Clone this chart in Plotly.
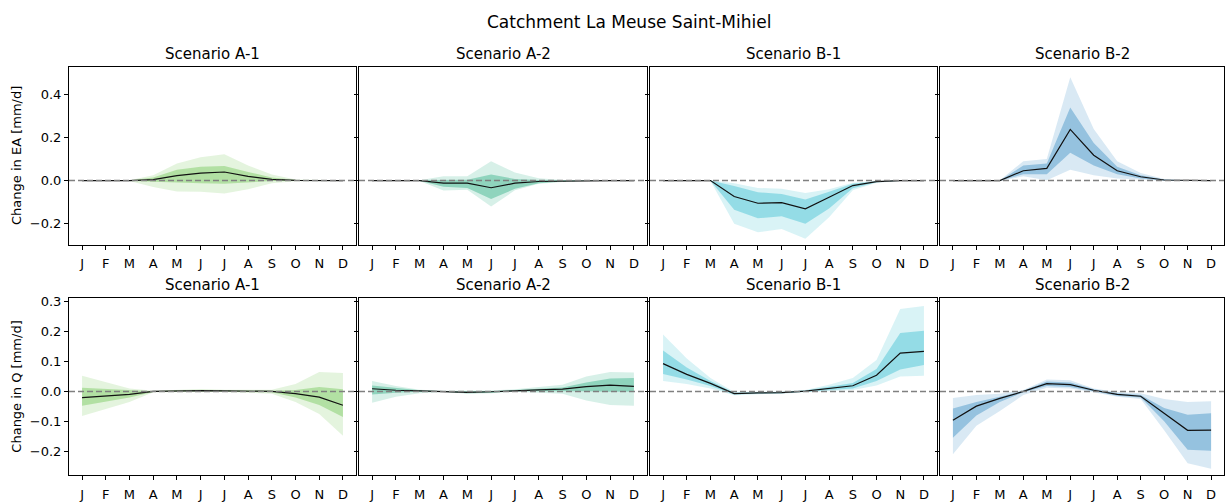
import plotly.graph_objects as go

W, H = 1225, 502

months = ["J", "F", "M", "A", "M", "J", "J", "A", "S", "O", "N", "D"]
month_idx = list(range(12))
scenarios = ["Scenario A-1", "Scenario A-2", "Scenario B-1", "Scenario B-2"]
suptitle = "Catchment La Meuse Saint-Mihiel"
ylabels = ["Change in EA [mm/d]", "Change in Q [mm/d]"]

ea_ticks = [-0.2, 0.0, 0.2, 0.4]
ea_ticktext = ["\u22120.2", "0.0", "0.2", "0.4"]
q_ticks = [-0.2, -0.1, 0.0, 0.1, 0.2, 0.3]
q_ticktext = ["\u22120.2", "\u22120.1", "0.0", "0.1", "0.2", "0.3"]

# ---- EA (evaporation) ----
ea_a1_med = [0, 0, 0, 0.005, 0.023, 0.035, 0.040, 0.020, 0.006, 0.001, 0, 0]
ea_a1_in_hi = [0.001, 0.001, 0.001, 0.015, 0.050, 0.065, 0.068, 0.040, 0.015, 0.003, 0.001, 0.001]
ea_a1_in_lo = [-0.001, -0.001, -0.001, -0.005, -0.010, -0.012, -0.015, -0.008, -0.002, -0.001, -0.001, -0.001]
ea_a1_out_hi = [0.002, 0.002, 0.002, 0.025, 0.080, 0.108, 0.122, 0.070, 0.028, 0.005, 0.002, 0.002]
ea_a1_out_lo = [-0.002, -0.002, -0.002, -0.030, -0.050, -0.052, -0.060, -0.040, -0.012, -0.003, -0.002, -0.002]

ea_a2_med = [0, 0, 0, -0.012, -0.012, -0.033, -0.012, -0.004, -0.002, 0, 0, 0]
ea_a2_in_hi = [0.001, 0.001, 0.001, 0.004, 0.004, 0.028, 0.008, 0.003, 0.001, 0.001, 0.001, 0.001]
ea_a2_in_lo = [-0.001, -0.001, -0.001, -0.028, -0.034, -0.085, -0.038, -0.012, -0.004, -0.001, -0.001, -0.001]
ea_a2_out_hi = [0.002, 0.002, 0.002, 0.020, 0.020, 0.090, 0.038, 0.011, 0.003, 0.002, 0.002, 0.002]
ea_a2_out_lo = [-0.002, -0.002, -0.002, -0.046, -0.042, -0.120, -0.045, -0.015, -0.006, -0.002, -0.002, -0.002]

ea_b1_med = [0, 0, 0, -0.074, -0.105, -0.102, -0.131, -0.077, -0.023, -0.005, 0, 0]
ea_b1_in_hi = [0.001, 0.001, 0.001, -0.025, -0.054, -0.062, -0.088, -0.052, -0.015, -0.003, 0.001, 0.001]
ea_b1_in_lo = [-0.001, -0.001, -0.001, -0.135, -0.175, -0.165, -0.200, -0.130, -0.035, -0.008, -0.001, -0.001]
ea_b1_out_hi = [0.002, 0.002, 0.002, -0.012, -0.034, -0.038, -0.057, -0.040, -0.010, -0.002, 0.002, 0.002]
ea_b1_out_lo = [-0.002, -0.002, -0.002, -0.200, -0.240, -0.225, -0.270, -0.170, -0.045, -0.010, -0.002, -0.002]

ea_b2_med = [0, 0, 0, 0.046, 0.057, 0.238, 0.118, 0.046, 0.018, 0.003, 0, 0]
ea_b2_in_hi = [0.001, 0.001, 0.001, 0.070, 0.080, 0.340, 0.175, 0.065, 0.025, 0.005, 0.001, 0.001]
ea_b2_in_lo = [-0.001, -0.001, -0.001, 0.030, 0.030, 0.130, 0.070, 0.030, 0.010, 0.001, -0.001, -0.001]
ea_b2_out_hi = [0.002, 0.002, 0.002, 0.090, 0.100, 0.480, 0.240, 0.090, 0.035, 0.008, 0.002, 0.002]
ea_b2_out_lo = [-0.002, -0.002, -0.002, 0.020, 0.002, 0.050, 0.025, 0.010, 0.004, -0.001, -0.002, -0.002]

# ---- Q (discharge) ----
q_a1_med = [-0.021, -0.016, -0.010, 0.000, 0.002, 0.003, 0.002, 0.001, 0.000, -0.007, -0.019, -0.046]
q_a1_in_hi = [0.012, 0.008, 0.003, 0.001, 0.004, 0.005, 0.004, 0.003, 0.002, 0.005, 0.015, 0.007]
q_a1_in_lo = [-0.048, -0.035, -0.020, -0.002, 0.000, 0.001, 0.000, -0.001, -0.003, -0.020, -0.045, -0.085]
q_a1_out_hi = [0.052, 0.030, 0.010, 0.002, 0.006, 0.008, 0.006, 0.005, 0.006, 0.025, 0.065, 0.062]
q_a1_out_lo = [-0.082, -0.058, -0.035, -0.003, -0.002, -0.001, -0.002, -0.004, -0.008, -0.035, -0.075, -0.148]

q_a2_med = [0.009, 0.004, 0.002, 0.000, -0.003, -0.001, 0.003, 0.005, 0.008, 0.016, 0.021, 0.017]
q_a2_in_hi = [0.020, 0.012, 0.004, 0.001, 0.000, 0.001, 0.005, 0.010, 0.013, 0.030, 0.043, 0.045]
q_a2_in_lo = [-0.010, -0.004, -0.001, -0.001, -0.006, -0.004, 0.001, 0.002, 0.001, 0.001, -0.001, 0.000]
q_a2_out_hi = [0.035, 0.018, 0.006, 0.002, 0.002, 0.003, 0.007, 0.014, 0.022, 0.050, 0.065, 0.063]
q_a2_out_lo = [-0.038, -0.018, -0.006, -0.002, -0.008, -0.006, -0.001, -0.004, -0.008, -0.030, -0.045, -0.048]

q_b1_med = [0.093, 0.057, 0.027, -0.007, -0.005, -0.004, 0.001, 0.010, 0.019, 0.054, 0.128, 0.134]
q_b1_in_hi = [0.137, 0.080, 0.035, -0.004, -0.003, -0.002, 0.003, 0.015, 0.028, 0.075, 0.195, 0.203]
q_b1_in_lo = [0.058, 0.040, 0.018, -0.010, -0.007, -0.006, -0.001, 0.005, 0.010, 0.035, 0.073, 0.088]
q_b1_out_hi = [0.190, 0.110, 0.045, -0.002, -0.001, 0.000, 0.005, 0.022, 0.045, 0.105, 0.275, 0.285]
q_b1_out_lo = [0.035, 0.025, 0.010, -0.013, -0.009, -0.008, -0.003, 0.002, 0.005, 0.020, 0.050, 0.052]

q_b2_med = [-0.096, -0.049, -0.023, 0.000, 0.026, 0.023, 0.004, -0.010, -0.016, -0.073, -0.130, -0.129]
q_b2_in_hi = [-0.057, -0.035, -0.018, 0.002, 0.033, 0.030, 0.007, -0.006, -0.012, -0.055, -0.078, -0.073]
q_b2_in_lo = [-0.155, -0.080, -0.035, -0.003, 0.018, 0.015, 0.001, -0.014, -0.020, -0.100, -0.195, -0.198]
q_b2_out_hi = [-0.022, -0.012, -0.008, 0.005, 0.040, 0.037, 0.010, -0.002, -0.006, -0.025, -0.035, -0.033]
q_b2_out_lo = [-0.210, -0.115, -0.065, -0.012, 0.012, 0.010, -0.003, -0.018, -0.025, -0.130, -0.240, -0.258]

base_colors = [(118, 200, 92), (55, 178, 138), (64, 194, 210), (66, 146, 198)]

panels = [
    [
        (ea_a1_med, ea_a1_in_lo, ea_a1_in_hi, ea_a1_out_lo, ea_a1_out_hi),
        (ea_a2_med, ea_a2_in_lo, ea_a2_in_hi, ea_a2_out_lo, ea_a2_out_hi),
        (ea_b1_med, ea_b1_in_lo, ea_b1_in_hi, ea_b1_out_lo, ea_b1_out_hi),
        (ea_b2_med, ea_b2_in_lo, ea_b2_in_hi, ea_b2_out_lo, ea_b2_out_hi),
    ],
    [
        (q_a1_med, q_a1_in_lo, q_a1_in_hi, q_a1_out_lo, q_a1_out_hi),
        (q_a2_med, q_a2_in_lo, q_a2_in_hi, q_a2_out_lo, q_a2_out_hi),
        (q_b1_med, q_b1_in_lo, q_b1_in_hi, q_b1_out_lo, q_b1_out_hi),
        (q_b2_med, q_b2_in_lo, q_b2_in_hi, q_b2_out_lo, q_b2_out_hi),
    ],
]

# layout in pixels
col_px = [(69, 356), (359, 647), (650, 937), (940, 1224)]
row_px = [(64, 243), (297, 476)]
yranges = [(-0.297, 0.526), (-0.28, 0.312)]
yticks = [(ea_ticks, ea_ticktext), (q_ticks, q_ticktext)]

FONT = "DejaVu Sans"
fig = go.Figure()
layout = dict(
    width=W, height=H,
    margin=dict(l=0, r=0, t=0, b=0),
    paper_bgcolor="white", plot_bgcolor="white",
    showlegend=False,
    font=dict(family=FONT, size=13, color="black"),
)
annotations = []
shapes = []

for r in range(2):
    for c in range(4):
        k = r * 4 + c + 1
        xa = "x" if k == 1 else f"x{k}"
        ya = "y" if k == 1 else f"y{k}"
        med, in_lo, in_hi, out_lo, out_hi = panels[r][c]
        rgb = base_colors[c]
        col_out = f"rgba({rgb[0]},{rgb[1]},{rgb[2]},0.2)"
        col_in = f"rgba({rgb[0]},{rgb[1]},{rgb[2]},0.45)"
        fig.add_trace(go.Scatter(x=month_idx, y=out_lo, mode="lines", line=dict(width=0),
                                 xaxis=xa, yaxis=ya, hoverinfo="skip"))
        fig.add_trace(go.Scatter(x=month_idx, y=out_hi, mode="lines", line=dict(width=0),
                                 fill="tonexty", fillcolor=col_out, xaxis=xa, yaxis=ya, hoverinfo="skip"))
        fig.add_trace(go.Scatter(x=month_idx, y=in_lo, mode="lines", line=dict(width=0),
                                 xaxis=xa, yaxis=ya, hoverinfo="skip"))
        fig.add_trace(go.Scatter(x=month_idx, y=in_hi, mode="lines", line=dict(width=0),
                                 fill="tonexty", fillcolor=col_in, xaxis=xa, yaxis=ya, hoverinfo="skip"))
        fig.add_trace(go.Scatter(x=month_idx, y=med, mode="lines", line=dict(width=1.2, color="#111111"),
                                 xaxis=xa, yaxis=ya))

        x0, x1 = col_px[c]
        y0, y1 = row_px[r]
        xdom = [x0 / W, x1 / W]
        ydom = [(H - y1) / H, (H - y0) / H]
        tv, tt = yticks[r]
        layout["xaxis" if k == 1 else f"xaxis{k}"] = dict(
            domain=xdom, anchor=ya, range=[-0.55, 11.55],
            tickmode="array", tickvals=month_idx, ticktext=months,
            ticks="outside", ticklen=4, tickwidth=1, tickcolor="black",
            ticklabelstandoff=3,
            showline=True, linecolor="black", linewidth=1, mirror=True,
            showgrid=False, zeroline=False, tickfont=dict(size=13, family=FONT),
        )
        layout["yaxis" if k == 1 else f"yaxis{k}"] = dict(
            domain=ydom, anchor=xa, range=list(yranges[r]),
            tickmode="array", tickvals=tv, ticktext=tt,
            showticklabels=(c == 0),
            ticks="outside", ticklen=4, tickwidth=1, tickcolor="black",
            showline=True, linecolor="black", linewidth=1, mirror=True,
            showgrid=False, zeroline=False, tickfont=dict(size=13, family=FONT),
        )
        # dashed zero reference line
        shapes.append(dict(type="line", xref=f"{xa} domain", yref=ya, x0=0, x1=1, y0=0, y1=0,
                           line=dict(color="#808080", width=1.5, dash="6px,3px")))
        # subplot title
        annotations.append(dict(text=scenarios[c], x=(x0 + x1) / 2 / W, y=(H - y0) / H,
                                xref="paper", yref="paper", xanchor="center", yanchor="bottom",
                                yshift=2, showarrow=False, font=dict(size=15, family=FONT)))

# y-axis labels
for r in range(2):
    y0, y1 = row_px[r]
    annotations.append(dict(text=ylabels[r], x=17 / W, y=(H - (y0 + y1) / 2) / H,
                            xref="paper", yref="paper", xanchor="center", yanchor="middle",
                            textangle=-90, showarrow=False, font=dict(size=13, family=FONT)))

annotations.append(dict(text=suptitle, x=629 / W, y=(H - 18) / H, xref="paper", yref="paper",
                        xanchor="center", yanchor="middle", showarrow=False,
                        font=dict(size=17, family=FONT)))

layout["annotations"] = annotations
layout["shapes"] = shapes
fig.update_layout(**layout)
fig.write_html("out.html")
